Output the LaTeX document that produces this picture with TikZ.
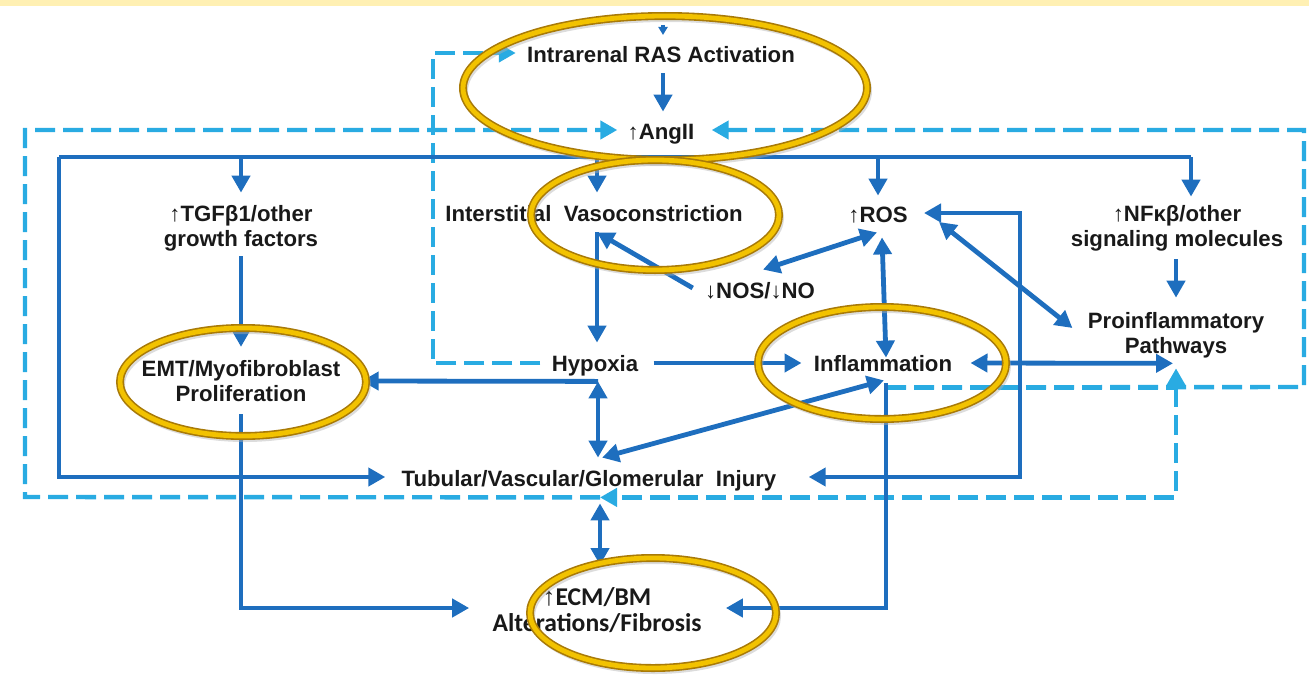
\documentclass[tikz,border=0pt]{standalone}
\usepackage{fontspec}
\setmainfont{Liberation Sans}
\newfontfamily\ecmfont{Carlito}
\usetikzlibrary{arrows.meta, calc}
\definecolor{cdark}{HTML}{1E6EBE}
\definecolor{clight}{HTML}{29ABE2}
\definecolor{cgold}{HTML}{A87A08}
\definecolor{cyel}{HTML}{F2C200}
\definecolor{cband}{HTML}{FFF0B3}
\newcommand{\uparr}{{\rmfamily\mdseries ↑}}
\newcommand{\dnarr}{{\rmfamily\mdseries ↓}}

\begin{document}
\begin{tikzpicture}[x=0.5pt, y=-0.5pt,
  >={Triangle[length=8.5pt, width=9pt]},
  lbl/.style={font=\bfseries\fontsize{11.1}{12.6}\selectfont, inner sep=0pt, align=center, text=black!90},
  one/.style={lbl, text height=8pt, text depth=2pt},
  conn/.style={draw=cdark, line width=2.4pt},
  arr/.style={conn, ->},
  darr/.style={conn, <->},
  dsh/.style={draw=clight, line width=2.2pt, dash pattern=on 10pt off 4pt},
  dsharr/.style={dsh, ->},
  ring/.style={draw=cgold, line width=0.8pt, double=cyel, double distance=2.4pt},
  ringshade/.style={draw=black!30, line width=3pt, opacity=0.45},
  ]
\useasboundingbox (0,0) rectangle (1309,674);
\fill[cband] (0,0) rectangle (1309,6);

% labels
\node[one] (ras) at (661,57) {Intrarenal RAS Activation};
\node[one] (ang) at (661,133) {\uparr AngII};
\node[lbl] (tgf) at (241,228) {\uparr TGFβ1/other\\growth\ factors};
\node[one] (vaso) at (594,215) {Interstitial\ \ Vasoconstriction};
\node[one] (ros) at (878,216) {\uparr ROS};
\node[lbl] (nfk) at (1177,228) {\uparr NFκβ/other\\signaling\ molecules};
\node[one] (nos) at (760,292) {\dnarr NOS/\dnarr NO};
\node[lbl] (pro) at (1176,335) {Proinflammatory\\Pathways};
\node[lbl] (emt) at (241,381) {EMT/Myofibroblast\\Proliferation};
\node[one] (hyp) at (595,365) {Hypoxia};
\node[one] (infl) at (883,365) {Inflammation};
\node[one] (inj) at (589,480) {Tubular/Vascular/Glomerular\ \ Injury};
\node[lbl, font=\ecmfont\bfseries\fontsize{12.8}{13}\selectfont] (ecm) at (597,610) {\uparr ECM/BM\\Alterations/Fibrosis};

% junctions
\coordinate (rastop) at (663,25);
\coordinate (rastip) at (663,35);
\coordinate (busL) at (59,157);
\coordinate (busR) at (1191,157);
\coordinate (jVaso) at ($(vaso.south)+(3,7)$);
\coordinate (jHyp) at ($(hyp.south)+(3,6)$);
\coordinate (jInfl) at ($(infl.south)+(3,12)$);
\coordinate (jPro) at (jInfl -| pro.south);
\coordinate (jInjB) at ($(inj.south)+(11,7)$);
\coordinate (cornR) at (1304,387);
\coordinate (cornL) at (25,497);
\coordinate (cornROS) at (1020,477);

% dashed feedback
\draw[dsharr] ($(hyp.west)+(-11,-2)$) -| ($(ras.west)+(-94,-4)$) -- ($(ras.west)+(-11,-4)$);
\draw[dsharr] (jInfl) -| ($(pro.south)+(0,10)$);
\draw[dsharr] (jInfl) -- (cornR) |- ($(ang.east)+(17,-3)$);
\draw[dsharr] (jPro) |- (jInjB);
\draw[dsharr] (jInjB) -- (cornL) |- ($(ang.west)+(-10,-3)$);

% AngII bus
\draw[conn, -{Triangle[length=4pt, width=4.5pt]}] (rastop) -- (rastip);
\draw[arr] ($(ras.south)+(2,6)$) -- ($(ang.north)+(2,-11)$);
\draw[conn] (busL) -- (busR);
\draw[arr] (busL) |- ($(inj.west)+(-16,-3)$);
\draw[arr] (busL -| tgf) -- ($(tgf.north)+(0,-12)$);
\draw[arr] (busL -| jVaso) -- ($(vaso.north)+(3,-12)$);
\draw[arr] (busL -| ros) -- ($(ros.north)+(0,-10)$);
\draw[arr] (busR) -- ($(nfk.north)+(14,-8)$);

% pathways
\draw[arr] ($(tgf.south)+(0,5)$) -- ($(emt.north)+(0,-13)$);
\draw[arr] ($(emt.south)+(0,12)$) |- ($(ecm.west)+(-23,-2)$);
\draw[arr] (jVaso) -- ($(hyp.north)+(2,-12)$);
\draw[arr] ($(nos.west)+(-12,-4)$) -- (jVaso);
\draw[darr] ($(nos.north)+(3,-12)$) -- ($(ros.south)+(-1,6)$);
\draw[darr] ($(ros.south)+(4,11)$) -- ($(infl.north)+(3,3)$);
\draw[darr] ($(ros.east)+(31,6)$) -- ($(pro.west)+(-15,-7)$);
\draw[darr] ($(ros.east)+(16,-3)$) -| (cornROS) -- ($(inj.east)+(32,-3)$);
\draw[arr] ($(nfk.south)+(-1,8)$) -- ($(pro.north)+(0,-14)$);
\draw[arr] ($(hyp.east)+(15,-2)$) -- ($(infl.west)+(-12,-2)$);
\draw[darr] ($(infl.east)+(18,-2)$) -- ($(pro.south)+(-3,5)$);
\draw[arr] ($(infl.south)+(3,8)$) |- ($(ecm.east)+(24,-2)$);
\draw[darr] ($(infl.south)+(1,5)$) -- ($(inj.north)+(13,-12)$);
\draw[darr] (jHyp) -- ($(inj.north)+(9,-12)$);
\draw[arr] (jHyp) -- ($(emt.east)+(21,0)$);
\draw[darr] ($(inj.south)+(11,13)$) -- ($(ecm.north)+(3,-22)$);

% highlight rings
\foreach \cx/\cy/\rx/\ry in {665/88/202/72, 655/215/124/55, 243/382/123/54, 882/363/124/56, 653/613/123/55} {
  \draw[ringshade] (\cx+2,\cy+3) ellipse [x radius=\rx, y radius=\ry];
  \draw[ring] (\cx,\cy) ellipse [x radius=\rx, y radius=\ry];
}
\end{tikzpicture}
\end{document}
